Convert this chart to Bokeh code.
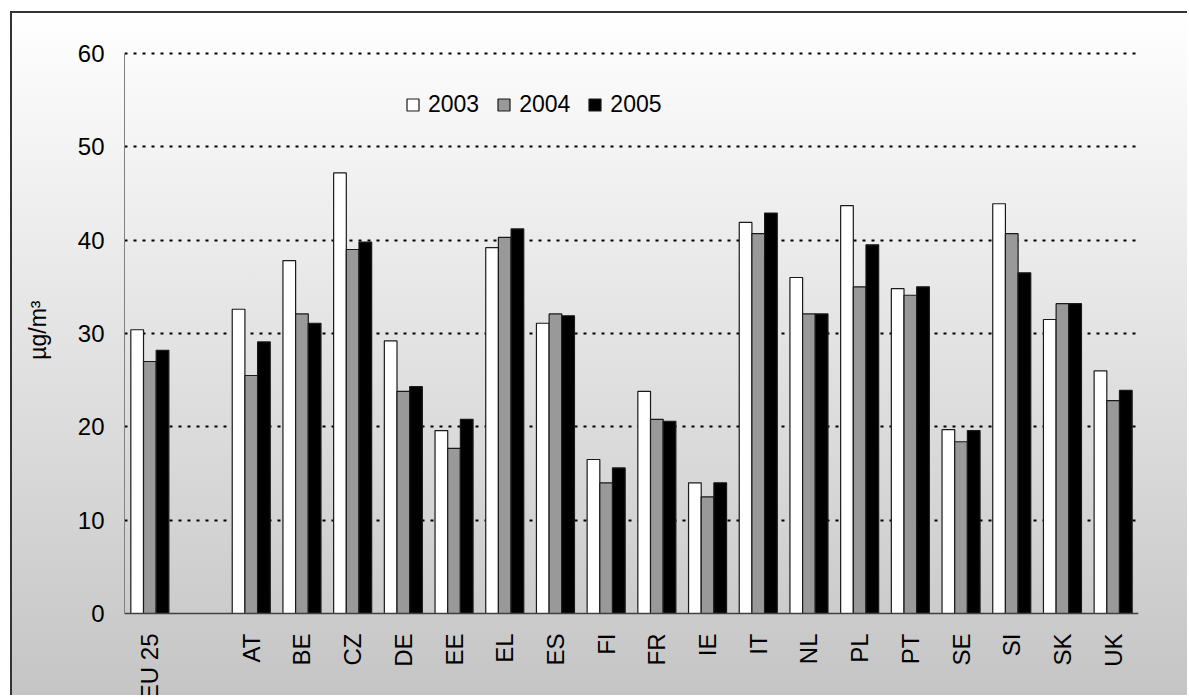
from math import pi
from bokeh.plotting import figure
from bokeh.models import (ColumnDataSource, FactorRange, Range1d, FixedTicker,
                          Legend, LegendItem, LabelSet, Span, Title)
from bokeh.transform import dodge
from bokeh.embed import file_html
from bokeh.resources import INLINE

# ---- data ----
categories = ["EU 25", " ", "AT", "BE", "CZ", "DE", "EE", "EL", "ES", "FI",
              "FR", "IE", "IT", "NL", "PL", "PT", "SE", "SI", "SK", "UK"]
countries = ["EU 25", "AT", "BE", "CZ", "DE", "EE", "EL", "ES", "FI",
             "FR", "IE", "IT", "NL", "PL", "PT", "SE", "SI", "SK", "UK"]
v2003 = [30.4, 32.6, 37.8, 47.2, 29.2, 19.6, 39.2, 31.1, 16.5, 23.8,
         14.0, 41.9, 36.0, 43.7, 34.8, 19.7, 43.9, 31.5, 26.0]
v2004 = [27.0, 25.5, 32.1, 39.0, 23.8, 17.7, 40.3, 32.1, 14.0, 20.8,
         12.5, 40.7, 32.1, 35.0, 34.1, 18.4, 40.7, 33.2, 22.8]
v2005 = [28.2, 29.1, 31.1, 39.8, 24.3, 20.8, 41.2, 31.9, 15.6, 20.6,
         14.0, 42.9, 32.1, 39.5, 35.0, 19.6, 36.5, 33.2, 23.9]
years = ["2003", "2004", "2005"]
y_ticks = [0, 10, 20, 30, 40, 50, 60]
y_label = "µg/m³"

FONT = "Liberation Sans"

# layout (pixels): value axis 0..60 spans 560 px; frame extends below 0 so the
# rotated category labels sit inside the frame
W, H = 1187, 695
TOP, LEFT, RIGHT = 43, 123, 49
PLOT_PX = 560
PAD_TOP_PX = 10
ppu = PLOT_PX / (y_ticks[-1] - y_ticks[0])
bottom_px = H - TOP - PAD_TOP_PX - PLOT_PX
y_start = y_ticks[0] - bottom_px / ppu
y_end = y_ticks[-1] + PAD_TOP_PX / ppu

src = ColumnDataSource(dict(cat=countries, v2003=v2003, v2004=v2004, v2005=v2005))

p = figure(x_range=FactorRange(factors=categories), y_range=Range1d(y_start, y_end),
           width=W, height=H, output_backend="svg", toolbar_location=None,
           x_axis_location=None,
           min_border_left=LEFT, min_border_right=RIGHT, min_border_top=TOP, min_border_bottom=0)

p.background_fill_color = None
p.border_fill_color = None
p.outline_line_color = None
p.styles = {
    "background": ("linear-gradient(#333333, #333333) 10px 11px / 100% 2px no-repeat, "
                   "linear-gradient(#333333, #333333) 10px 11px / 2px 100% no-repeat, "
                   "linear-gradient(to bottom, #ffffff, #c4c4c4) 10px 11px / 100% 100% no-repeat, "
                   "#ffffff")
}

fills = ["#ffffff", "#999999", "#000000"]
offsets = [-0.25, 0.0, 0.25]
renderers = []
for yr, fc, off in zip(years, fills, offsets):
    r = p.vbar(x=dodge("cat", off, range=p.x_range), top="v" + yr, bottom=0, width=0.25,
               source=src, fill_color=fc, line_color="#1a1a1a", line_width=1.2)
    renderers.append(r)

# baseline (category axis line)
p.add_layout(Span(location=y_ticks[0], dimension="width", line_color="#404040", line_width=1.5))

# category labels, rotated, below the baseline
lab_src = ColumnDataSource(dict(cat=countries, y=[y_ticks[0]] * len(countries)))
p.add_layout(LabelSet(x="cat", y="y", text="cat", source=lab_src, angle=pi / 2,
                      text_align="right", text_baseline="middle", y_offset=-20,
                      text_font={"value": FONT}, text_font_size={"value": "24px"},
                      text_color="black"))

# y axis
ya = p.yaxis[0]
ya.bounds = (y_ticks[0], y_ticks[-1])
ya.ticker = FixedTicker(ticks=y_ticks)
ya.major_tick_out = 0
ya.major_tick_in = 0
ya.minor_tick_out = 0
ya.minor_tick_in = 0
ya.minor_tick_line_color = None
ya.major_tick_line_color = None
ya.axis_line_color = "#808080"
ya.axis_line_width = 1
ya.major_label_standoff = 20
ya.major_label_text_font = FONT
ya.major_label_text_font_size = "24px"
ya.major_label_text_color = "black"

# unit label, placed beside the value axis (centred on the 0..60 span)
p.add_layout(Title(text=y_label, align="right", vertical_align="middle",
                   offset=257, standoff=46,
                   text_font=FONT, text_font_size="23px", text_font_style="normal",
                   text_color="black"), "left")

p.ygrid.ticker = FixedTicker(ticks=y_ticks[1:])
p.ygrid.grid_line_color = "black"
p.ygrid.grid_line_width = 2
p.ygrid.grid_line_dash = "3 6"
p.xgrid.visible = False

legend = Legend(items=[LegendItem(label=yr, renderers=[r]) for yr, r in zip(years, renderers)],
                orientation="horizontal", location=(281, 577),
                glyph_width=15, glyph_height=15, label_standoff=8, spacing=17,
                padding=0, margin=0, background_fill_alpha=0, border_line_color=None,
                label_text_font=FONT, label_text_font_size="23px", label_text_color="black")
p.add_layout(legend)

open("out.html", "w").write(file_html(p, INLINE))
